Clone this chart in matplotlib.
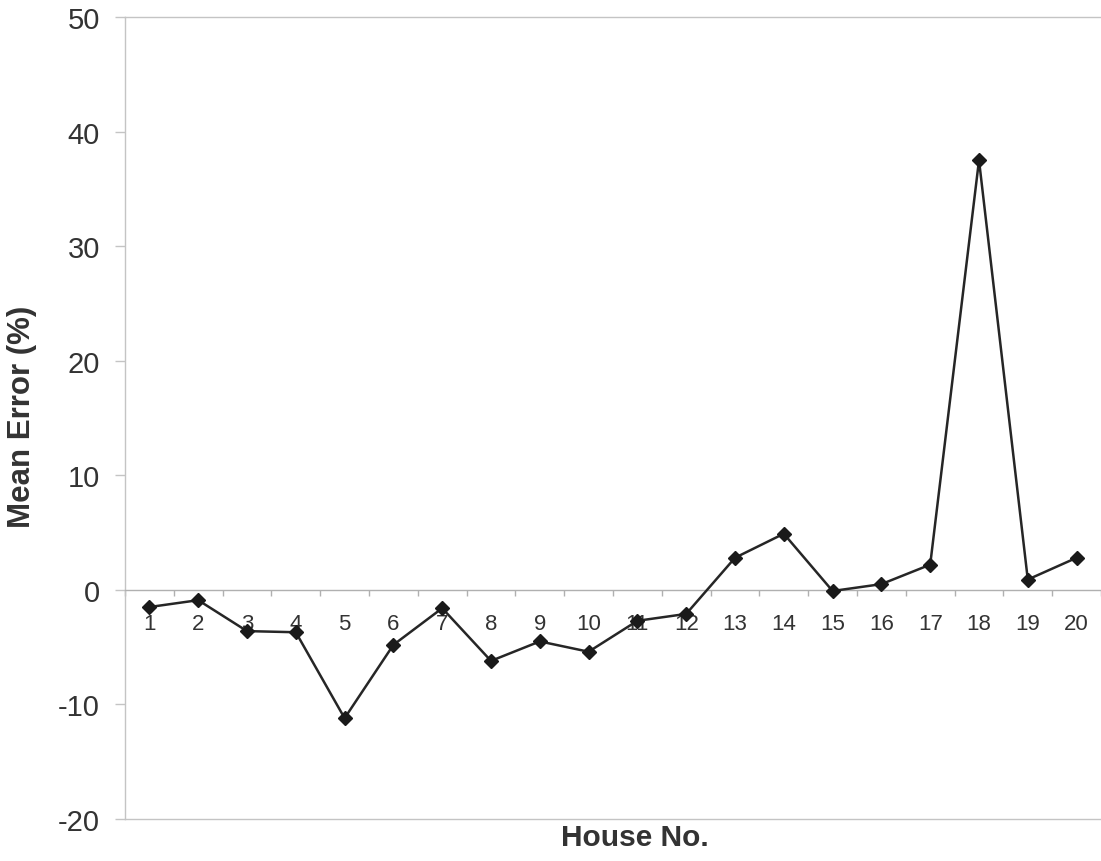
import matplotlib
matplotlib.use("Agg")
import matplotlib.pyplot as plt

# значения
houses = list(range(1, 21))
mean_error = [-1.5, -0.9, -3.6, -3.7, -11.2, -4.8, -1.6, -6.2, -4.5, -5.4,
              -2.7, -2.1, 2.8, 4.9, -0.1, 0.5, 2.2, 37.5, 0.9, 2.8]
y_ticks = [-20, -10, 0, 10, 20, 30, 40, 50]

plt.rcParams["font.family"] = ["Liberation Sans", "DejaVu Sans"]
text_color = "#333333"
frame_color = "#c4c4c4"

fig = plt.figure(figsize=(11.01, 8.62), dpi=100)
ax = fig.add_axes([125 / 1101, 1 - 820 / 862, 1 - 125 / 1101, (820 - 18) / 862])

ax.plot(houses, mean_error, color="#262626", linewidth=1.8,
        marker="D", markersize=7.5, markerfacecolor="#1a1a1a",
        markeredgecolor="#1a1a1a", zorder=3)

ax.set_xlim(0.5, 20.5)
ax.set_ylim(-20, 50)

# рамка области построения
for side in ["left", "top"]:
    ax.spines[side].set_color(frame_color)
    ax.spines[side].set_linewidth(1.0)
ax.spines["right"].set_visible(False)
ax.spines["bottom"].set_position(("data", 0))
ax.spines["bottom"].set_color("#b0b0b0")
ax.spines["bottom"].set_linewidth(1.0)
ax.axhline(-20, color=frame_color, linewidth=1.0, clip_on=False)

# ось X: засечки между категориями, подписи по центру
ax.set_xticks([h - 0.5 for h in houses] + [20.5])
ax.set_xticklabels([])
ax.tick_params(axis="x", which="major", direction="out", length=4,
               color="#b0b0b0", width=1.0)
ax.set_xticks(houses, minor=True)
ax.set_xticklabels([str(h) for h in houses], minor=True)
ax.tick_params(axis="x", which="minor", length=0, pad=17,
               labelsize=16, labelcolor=text_color)

ax.set_yticks(y_ticks)
ax.set_yticklabels([str(v) for v in y_ticks])
ax.tick_params(axis="y", direction="out", length=7, width=1.0,
               color=frame_color, pad=11, labelsize=21, labelcolor=text_color)

fig.text(22 / 1101, 1 - 417 / 862, "Mean Error (%)", rotation=90,
         ha="center", va="center", fontsize=22.5, fontweight="bold",
         color=text_color)
fig.text(635 / 1101, 1 - 838 / 862, "House No.", ha="center", va="center",
         fontsize=21.5, fontweight="bold", color=text_color)

fig.savefig("out.png", dpi=100)
